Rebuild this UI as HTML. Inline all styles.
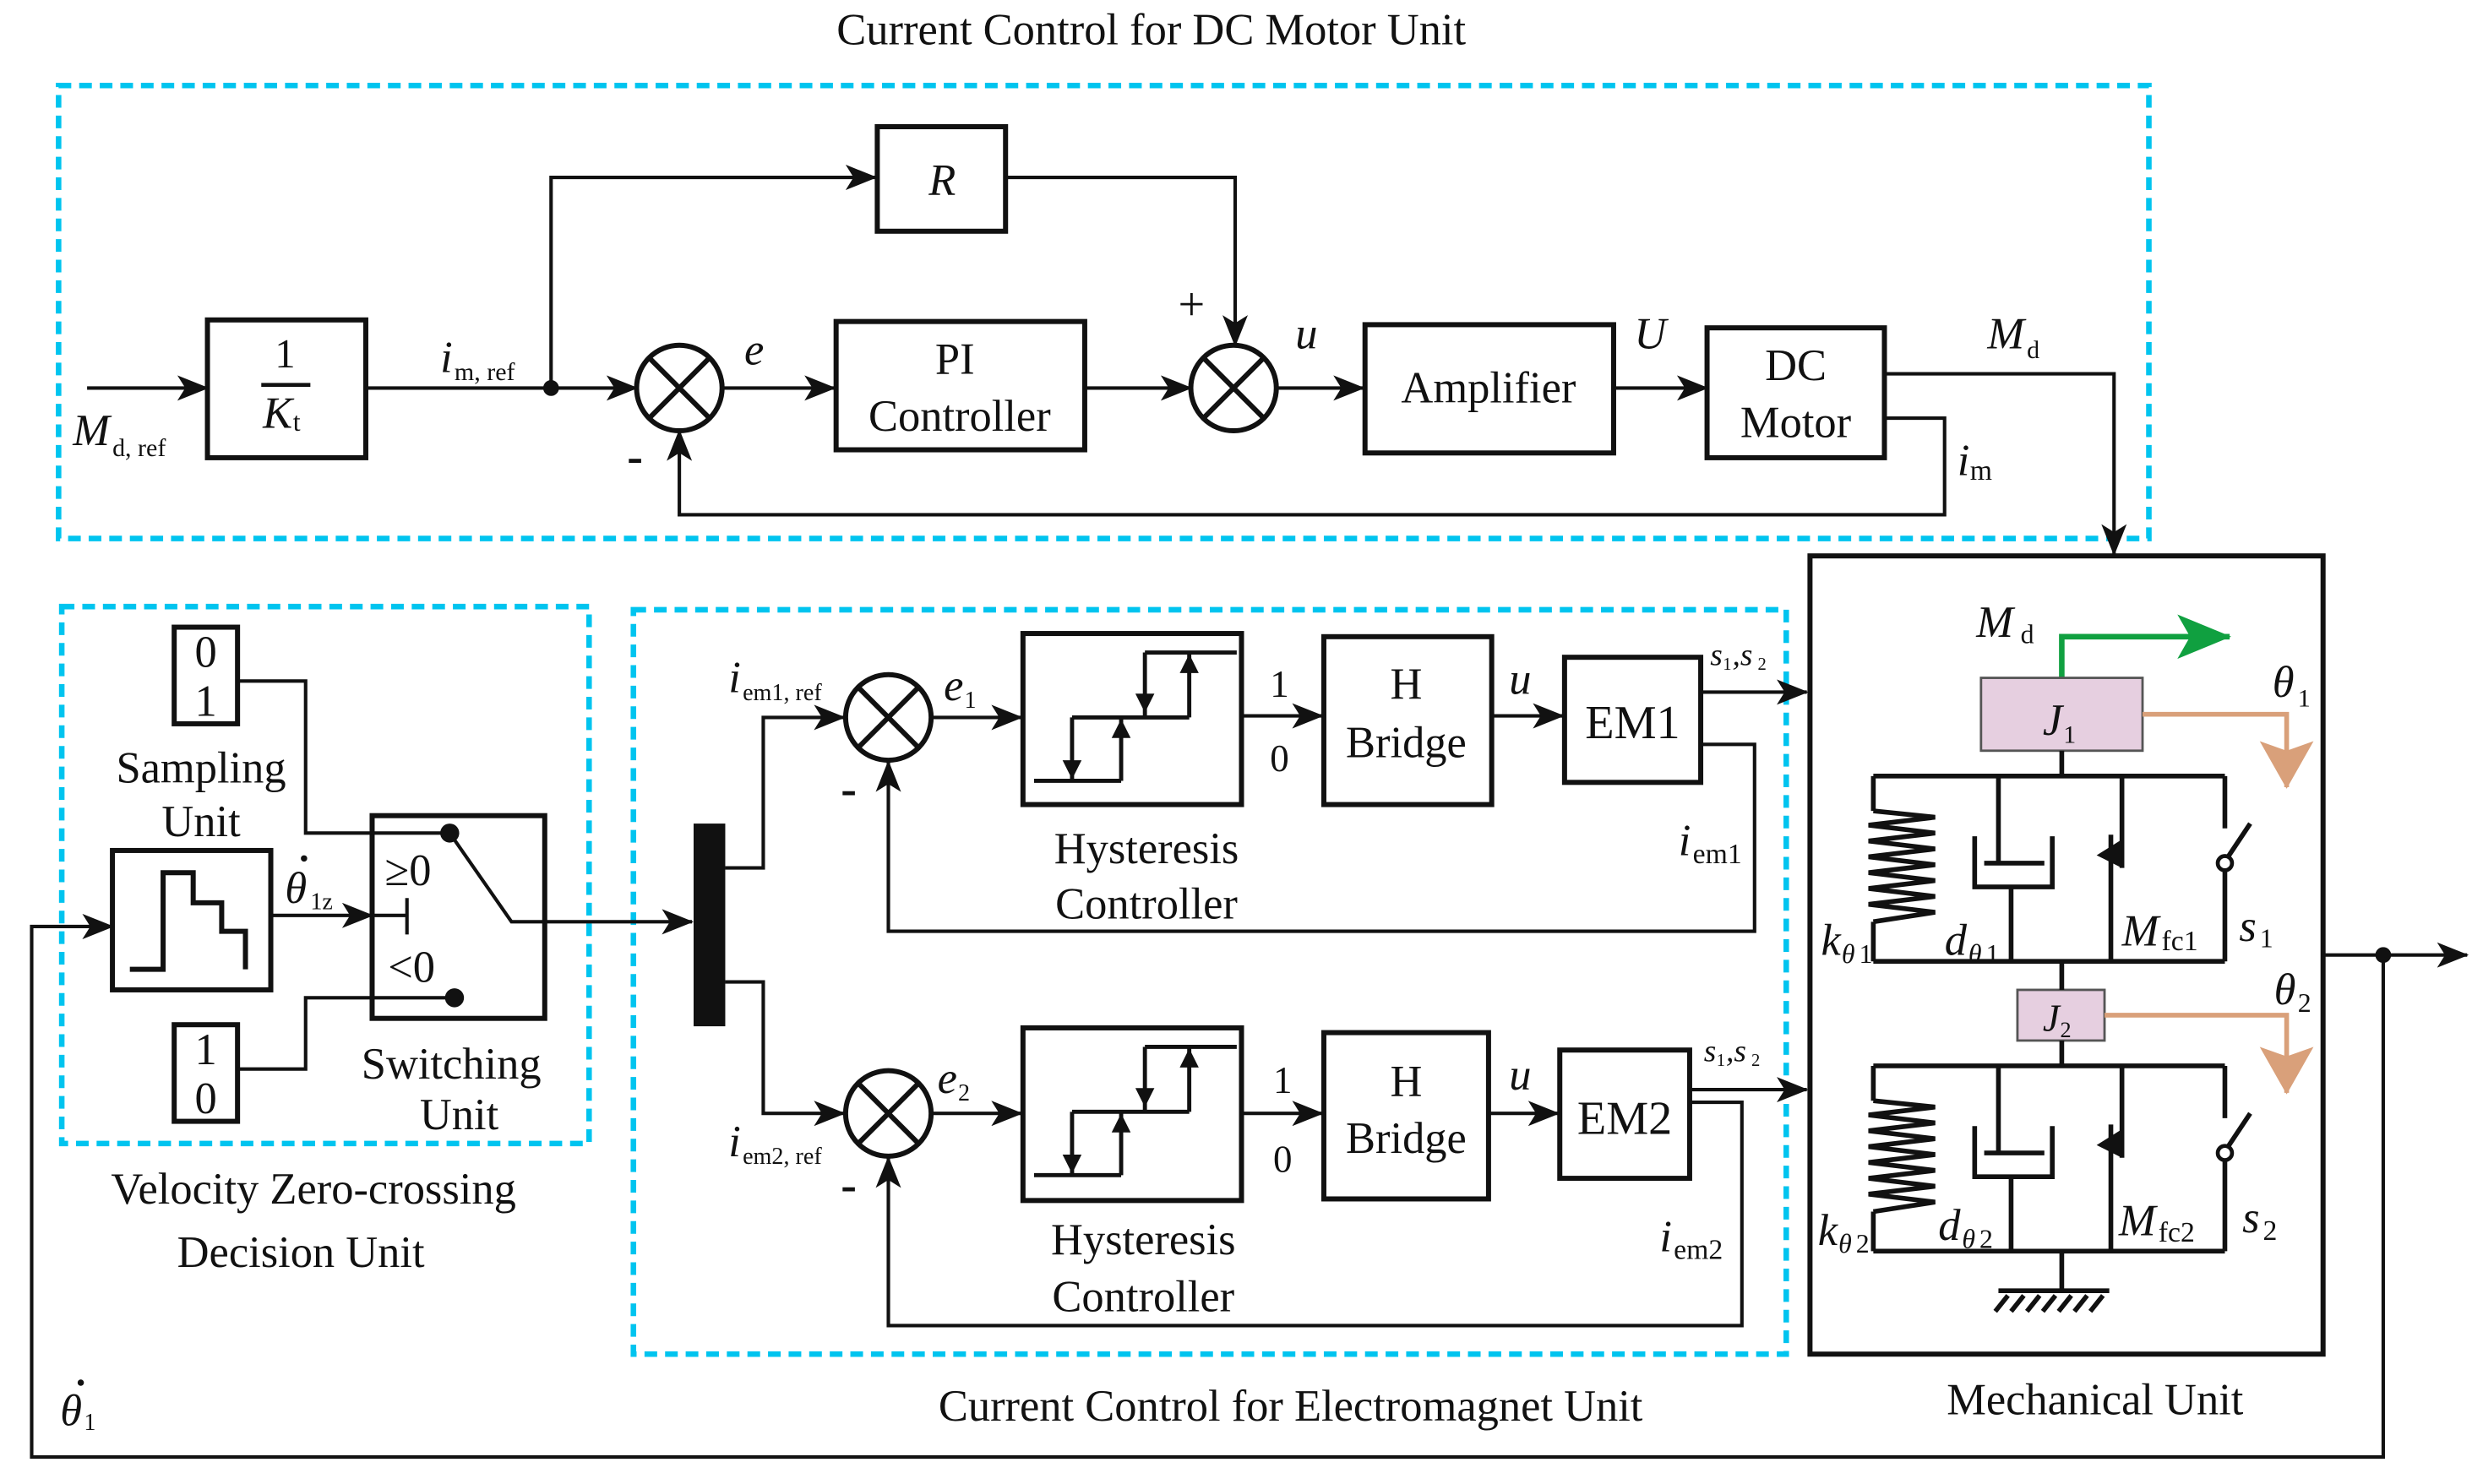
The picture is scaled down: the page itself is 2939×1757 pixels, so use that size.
<!DOCTYPE html>
<html><head><meta charset="utf-8"><style>html,body{margin:0;padding:0;background:#fff}svg{display:block}svg text{font-family:"Liberation Serif","DejaVu Serif","Times New Roman",serif}</style></head><body>
<svg width="2939" height="1757" viewBox="0 0 1568 937" preserveAspectRatio="none" xmlns="http://www.w3.org/2000/svg">
<defs>
<marker id="a" markerUnits="userSpaceOnUse" markerWidth="20" markerHeight="16" refX="19" refY="8" orient="auto"><path d="M0,0 L20,8 L0,16 L5,8 Z" fill="#111"/></marker>
<marker id="g" markerUnits="userSpaceOnUse" markerWidth="34" markerHeight="28" refX="33" refY="14" orient="auto"><path d="M0,0 L34,14 L0,28 L8,14 Z" fill="#10a040"/></marker>
<marker id="o" markerUnits="userSpaceOnUse" markerWidth="30" markerHeight="34" refX="29" refY="17" orient="auto"><path d="M0,0 L30,17 L0,34 L6,17 Z" fill="#d9a07a"/></marker>
</defs>
<g fill="none" stroke="#00c4ef" stroke-width="3.5" stroke-dasharray="8 5">
<rect x="37" y="54" width="1320" height="286"/>
<rect x="39" y="383" width="333" height="339"/>
<rect x="400" y="385" width="728" height="470"/>
</g>
<g font-size="28" fill="#111" text-anchor="middle">
<text x="727" y="28">Current Control for DC Motor Unit</text>
<text x="815" y="897">Current Control for Electromagnet Unit</text>
<text x="1323" y="893">Mechanical Unit</text>
<text x="198" y="760">Velocity Zero-crossing</text>
<text x="190" y="800">Decision Unit</text>
<text x="127" y="494">Sampling</text>
<text x="127" y="528">Unit</text>
<text x="285" y="681">Switching</text>
<text x="290" y="713">Unit</text>
<text x="724" y="545">Hysteresis</text>
<text x="724" y="580">Controller</text>
<text x="722" y="792">Hysteresis</text>
<text x="722" y="828">Controller</text>
</g>
<g fill="none" stroke="#111" stroke-width="3.2">
<rect x="131" y="202" width="100" height="87"/>
<rect x="554" y="80" width="81" height="66"/>
<rect x="528" y="203" width="157" height="81"/>
<rect x="862" y="205" width="157" height="81"/>
<rect x="1078" y="207" width="112" height="82"/>
<rect x="110" y="396" width="40" height="61"/>
<rect x="110" y="647" width="40" height="61"/>
<rect x="71" y="537" width="100" height="88"/>
<rect x="235" y="515" width="109" height="128"/>
<rect x="646" y="400" width="138" height="108"/>
<rect x="836" y="402" width="106" height="106"/>
<rect x="988" y="415" width="86" height="79"/>
<rect x="646" y="649" width="138" height="109"/>
<rect x="836" y="652" width="104" height="105"/>
<rect x="985" y="663" width="82" height="81"/>
<rect x="1143" y="351" width="324" height="504"/>
<circle cx="429" cy="245" r="27"/><path d="M410,226 L448,264 M448,226 L410,264"/>
<circle cx="779" cy="245" r="27"/><path d="M760,226 L798,264 M798,226 L760,264"/>
<circle cx="561" cy="453" r="27"/><path d="M542,434 L580,472 M580,434 L542,472"/>
<circle cx="561" cy="703" r="27"/><path d="M542,684 L580,722 M580,684 L542,722"/>
<path d="M82,612 H103 V551 H122 V570 H140 V588 H155 V612"/>
</g>
<line x1="165" y1="243" x2="196" y2="243" stroke="#111" stroke-width="2.5"/>
<g fill="none" stroke="#111" stroke-width="2.2">
<path d="M55,245 H131" marker-end="url(#a)"/>
<path d="M231,245 H402" marker-end="url(#a)"/>
<path d="M348,245 V112 H553" marker-end="url(#a)"/>
<path d="M635,112 H780 V218" marker-end="url(#a)"/>
<path d="M456,245 H527" marker-end="url(#a)"/>
<path d="M685,245 H752" marker-end="url(#a)"/>
<path d="M806,245 H861" marker-end="url(#a)"/>
<path d="M1019,245 H1078" marker-end="url(#a)"/>
<path d="M1190,236 H1335 V350" marker-end="url(#a)"/>
<path d="M1190,264 H1228 V325 H429 V272" marker-end="url(#a)"/>
<path d="M1467,603 H1558" marker-end="url(#a)"/>
<path d="M1505,603 V920 H20 V585 H71" marker-end="url(#a)"/>
<path d="M171,578 H235" marker-end="url(#a)"/>
<path d="M235,578 H257 M257,567 V590"/>
<path d="M150,430 H193 V526 H284"/>
<path d="M150,675 H193 V630 H287"/>
<path d="M284,526 L323,582 H344"/>
<path d="M344,582 H437" marker-end="url(#a)"/>
<path d="M458,548 H482 V453 H533" marker-end="url(#a)"/>
<path d="M458,620 H482 V703 H533" marker-end="url(#a)"/>
<path d="M589,453 H645" marker-end="url(#a)"/>
<path d="M589,703 H645" marker-end="url(#a)"/>
<path d="M784,452 H835" marker-end="url(#a)"/>
<path d="M784,703 H835" marker-end="url(#a)"/>
<path d="M942,452 H987" marker-end="url(#a)"/>
<path d="M940,703 H984" marker-end="url(#a)"/>
<path d="M1074,437 H1141" marker-end="url(#a)"/>
<path d="M1067,688 H1141" marker-end="url(#a)"/>
<path d="M1074,470 H1108 V588 H561 V481" marker-end="url(#a)"/>
<path d="M1067,696 H1100 V837 H561 V731" marker-end="url(#a)"/>
</g>
<g fill="#111"><circle cx="348" cy="245" r="5"/><circle cx="284" cy="526" r="6"/><circle cx="287" cy="630" r="6"/><circle cx="1505" cy="603" r="5"/>
<rect x="438" y="520" width="20" height="128"/>
<circle cx="192" cy="542" r="2"/><circle cx="51" cy="873" r="2"/></g>
<g fill="none" stroke="#111" stroke-width="2.6">
<path d="M653,493 H708 M677,453 V493 M708,453 V493 M677,453 H751 M723,412 V453 M751,412 V453 M723,412 H781"/>
</g>
<g fill="#111"><path d="M671,480 L683,480 L677,492 Z M702,466 L714,466 L708,454 Z M717,438 L729,438 L723,450 Z M745,425 L757,425 L751,413 Z"/></g>
<g transform="translate(0,249)">
<path d="M653,493 H708 M677,453 V493 M708,453 V493 M677,453 H751 M723,412 V453 M751,412 V453 M723,412 H781" fill="none" stroke="#111" stroke-width="2.6"/>
<path d="M671,480 L683,480 L677,492 Z M702,466 L714,466 L708,454 Z M717,438 L729,438 L723,450 Z M745,425 L757,425 L751,413 Z" fill="#111"/>
</g>
<path d="M1302,430 V402 H1408" fill="none" stroke="#10a040" stroke-width="3.5" marker-end="url(#g)"/>
<rect x="1251" y="428" width="102" height="46" fill="#e6cfe0" stroke="#555" stroke-width="1.5"/>
<rect x="1274" y="625" width="55" height="32" fill="#e6cfe0" stroke="#555" stroke-width="1.5"/>
<path d="M1353,451 H1444 V497" fill="none" stroke="#d9a07a" stroke-width="3" marker-end="url(#o)"/>
<path d="M1329,641 H1444 V690" fill="none" stroke="#d9a07a" stroke-width="3" marker-end="url(#o)"/>
<g fill="none" stroke="#111" stroke-width="3">
<path d="M1302,474 V490 M1183,490 H1405 M1183,607 H1405 M1183,490 V512 M1183,582 V607"/>
<path d="M1183,512 L1222,516 L1180,521 L1222,526 L1180,531 L1222,536 L1180,541 L1222,546 L1180,551 L1222,556 L1180,561 L1222,566 L1180,571 L1222,576 L1183,582"/>
<path d="M1262,490 V545 M1247,528 V560 H1296 V528 M1253,545 H1291 M1270,560 V607"/>
<path d="M1340,490 V548 M1333,527 V607"/>
<path d="M1405,490 V523 M1405,549 V607 M1407,541 L1421,520"/>
</g>
<path d="M1340,530 L1340,548 L1324,540 Z" fill="#111"/>
<circle cx="1405" cy="545" r="4.5" fill="#fff" stroke="#111" stroke-width="2.5"/>
<g transform="translate(0,183)">
<path d="M1183,490 H1405 M1183,607 H1405 M1183,490 V512 M1183,582 V607" fill="none" stroke="#111" stroke-width="3"/>
<path d="M1183,512 L1222,516 L1180,521 L1222,526 L1180,531 L1222,536 L1180,541 L1222,546 L1180,551 L1222,556 L1180,561 L1222,566 L1180,571 L1222,576 L1183,582" fill="none" stroke="#111" stroke-width="3"/>
<path d="M1262,490 V545 M1247,528 V560 H1296 V528 M1253,545 H1291 M1270,560 V607 M1340,490 V548 M1333,527 V607 M1405,490 V523 M1405,549 V607 M1407,541 L1421,520" fill="none" stroke="#111" stroke-width="3"/>
<path d="M1340,530 L1340,548 L1324,540 Z" fill="#111"/>
<circle cx="1405" cy="545" r="4.5" fill="#fff" stroke="#111" stroke-width="2.5"/>
</g>
<path d="M1302,607 V625 M1302,657 V673 M1302,790 V815 M1262,815 H1332 M1268,818 L1260,828 M1278,818 L1270,828 M1288,818 L1280,828 M1298,818 L1290,828 M1308,818 L1300,828 M1318,818 L1310,828 M1328,818 L1320,828" fill="none" stroke="#111" stroke-width="3"/>
<g fill="#111" font-size="28">
<text x="180" y="232" text-anchor="middle" font-size="26">1</text>
<text x="166" y="270" font-style="italic">K</text><text x="185" y="272" font-size="17">t</text>
<text x="595" y="123" text-anchor="middle" font-style="italic">R</text>
<text x="603" y="236" text-anchor="middle">PI</text>
<text x="606" y="272" text-anchor="middle">Controller</text>
<text x="940" y="254" text-anchor="middle">Amplifier</text>
<text x="1134" y="240" text-anchor="middle">DC</text>
<text x="1134" y="276" text-anchor="middle">Motor</text>
<text x="888" y="441" text-anchor="middle">H</text>
<text x="888" y="478" text-anchor="middle">Bridge</text>
<text x="888" y="692" text-anchor="middle">H</text>
<text x="888" y="728" text-anchor="middle">Bridge</text>
<text x="1031" y="466" text-anchor="middle" font-size="30">EM1</text>
<text x="1026" y="716" text-anchor="middle" font-size="30">EM2</text>
<text x="130" y="421" text-anchor="middle">0</text><text x="130" y="452" text-anchor="middle">1</text>
<text x="130" y="672" text-anchor="middle">1</text><text x="130" y="703" text-anchor="middle">0</text>
<text x="243" y="559">≥0</text>
<text x="245" y="620">&lt;0</text>
<text x="808" y="440" text-anchor="middle" font-size="24">1</text>
<text x="808" y="487" text-anchor="middle" font-size="24">0</text>
<text x="810" y="690" text-anchor="middle" font-size="24">1</text>
<text x="810" y="740" text-anchor="middle" font-size="24">0</text>
<text x="744" y="202" font-size="30">+</text>
<text x="396" y="298" font-size="30" font-weight="bold">-</text>
<text x="531" y="508" font-size="30" font-weight="bold">-</text>
<text x="531" y="758" font-size="30" font-weight="bold">-</text>
</g>
<g fill="#111" font-style="italic" font-size="28">
<text x="46" y="281">M</text><text x="71" y="288" font-size="16" font-style="normal">d, ref</text>
<text x="278" y="235">i</text><text x="287" y="240" font-size="16" font-style="normal">m, ref</text>
<text x="470" y="230">e</text>
<text x="818" y="220">u</text>
<text x="1032" y="220">U</text>
<text x="1255" y="220">M</text><text x="1280" y="226" font-size="16" font-style="normal">d</text>
<text x="1236" y="300">i</text><text x="1244" y="303" font-size="18" font-style="normal">m</text>
<text x="460" y="437">i</text><text x="469" y="442" font-size="15" font-style="normal">em1, ref</text>
<text x="460" y="730">i</text><text x="469" y="735" font-size="15" font-style="normal">em2, ref</text>
<text x="596" y="442">e</text><text x="609" y="447" font-size="15" font-style="normal">1</text>
<text x="592" y="690">e</text><text x="605" y="695" font-size="15" font-style="normal">2</text>
<text x="953" y="438">u</text>
<text x="953" y="688">u</text>
<text x="1080" y="420" font-size="20">s</text><text x="1088" y="423" font-size="11" font-style="normal">1</text><text x="1094" y="420" font-size="20">,s</text><text x="1110" y="423" font-size="11" font-style="normal">2</text>
<text x="1076" y="670" font-size="20">s</text><text x="1084" y="673" font-size="11" font-style="normal">1</text><text x="1090" y="670" font-size="20">,s</text><text x="1106" y="673" font-size="11" font-style="normal">2</text>
<text x="1060" y="540">i</text><text x="1069" y="545" font-size="18" font-style="normal">em1</text>
<text x="1048" y="790">i</text><text x="1057" y="795" font-size="18" font-style="normal">em2</text>
<text x="180" y="570">θ</text><text x="196" y="574" font-size="15" font-style="normal">1z</text>
<text x="38" y="900">θ</text><text x="53" y="903" font-size="15" font-style="normal">1</text>
<text x="1248" y="402">M</text><text x="1276" y="406" font-size="17" font-style="normal">d</text>
<text x="1290" y="464">J</text><text x="1303" y="469" font-size="16" font-style="normal">1</text>
<text x="1290" y="651" font-size="24">J</text><text x="1301" y="655" font-size="14" font-style="normal">2</text>
<text x="1435" y="440">θ</text><text x="1451" y="446" font-size="16" font-style="normal">1</text>
<text x="1436" y="634">θ</text><text x="1451" y="639" font-size="17" font-style="normal">2</text>
<text x="1150" y="603">k</text><text x="1163" y="608" font-size="17">θ</text><text x="1174" y="608" font-size="17" font-style="normal">1</text>
<text x="1228" y="603">d</text><text x="1243" y="608" font-size="17">θ</text><text x="1254" y="608" font-size="17" font-style="normal">1</text>
<text x="1340" y="597">M</text><text x="1365" y="600" font-size="18" font-style="normal">fc1</text>
<text x="1414" y="594">s</text><text x="1427" y="598" font-size="17" font-style="normal">1</text>
<text x="1148" y="786">k</text><text x="1161" y="791" font-size="17">θ</text><text x="1172" y="791" font-size="17" font-style="normal">2</text>
<text x="1224" y="783">d</text><text x="1239" y="788" font-size="17">θ</text><text x="1250" y="788" font-size="17" font-style="normal">2</text>
<text x="1338" y="780">M</text><text x="1363" y="784" font-size="18" font-style="normal">fc2</text>
<text x="1416" y="778">s</text><text x="1429" y="783" font-size="18" font-style="normal">2</text>
</g>
</svg>
</body></html>
